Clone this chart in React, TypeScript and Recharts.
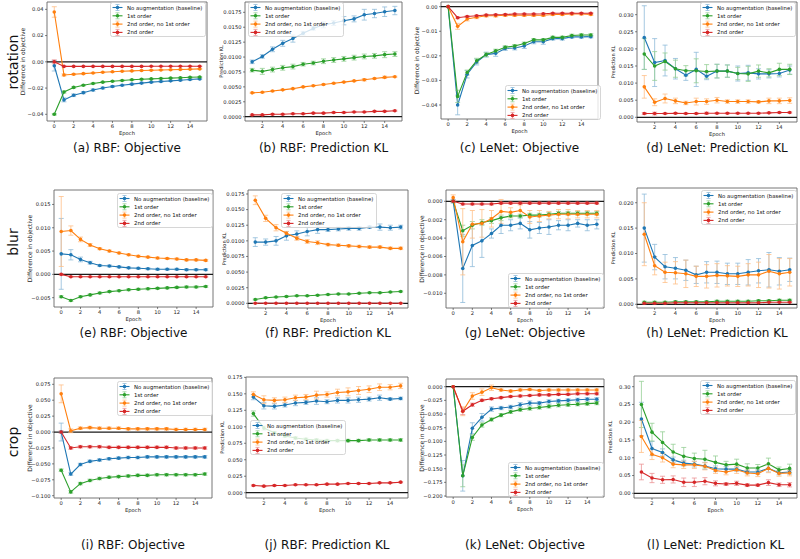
import React from 'react';
import { LineChart, Line, XAxis, YAxis, ErrorBar, ReferenceLine, ReferenceArea, Label } from 'recharts';

const COLORS = ['#1f77b4', '#2ca02c', '#ff7f0e', '#d62728'];
const ERR_COLORS = ['#8fbbd9', '#95cf95', '#ffbf86', '#eb9394'];
const SERIES_NAMES = ['No augmentation (baseline)', '1st order', '2nd order, no 1st order', '2nd order'];
const OBJ_LABEL = 'Difference in objective';
const KL_LABEL = 'Prediction KL';

const EPOCHS_FROM_0 = [0, 1, 2, 3, 4, 5, 6, 7, 8, 9, 10, 11, 12, 13, 14, 15];
const EPOCHS_FROM_1 = [1, 2, 3, 4, 5, 6, 7, 8, 9, 10, 11, 12, 13, 14, 15];
const TICKS_FROM_0 = [0, 2, 4, 6, 8, 10, 12, 14];
const TICKS_FROM_1 = [2, 4, 6, 8, 10, 12, 14];

// (a) rotation, RBF, objective
const aNoAug = [-0.003, -0.029, -0.0255, -0.0235, -0.0215, -0.02, -0.0188, -0.0178, -0.017, -0.0162, -0.0155, -0.015, -0.0145, -0.014, -0.0135, -0.013];
const aNoAugErr = [0.004, 0.0015, 0.001, 0.0008, 0.0008, 0.0007, 0.0007, 0.0006, 0.0006, 0.0006, 0.0005, 0.0005, 0.0005, 0.0005, 0.0005, 0.0005];
const aFirst = [-0.04, -0.023, -0.0195, -0.0178, -0.0165, -0.0155, -0.0148, -0.0142, -0.0137, -0.0133, -0.013, -0.0127, -0.0124, -0.0121, -0.0118, -0.0116];
const aFirstErr = [0.0006, 0.0008, 0.0006, 0.0005, 0.0005, 0.0004, 0.0004, 0.0004, 0.0004, 0.0004, 0.0004, 0.0004, 0.0004, 0.0004, 0.0004, 0.0004];
const aSecondNoFirst = [0.038, -0.01, -0.0095, -0.009, -0.0085, -0.008, -0.0076, -0.0072, -0.0069, -0.0066, -0.0064, -0.0062, -0.006, -0.0058, -0.0056, -0.0054];
const aSecondNoFirstErr = [0.004, 0.0008, 0.0005, 0.0004, 0.0004, 0.0003, 0.0003, 0.0003, 0.0003, 0.0003, 0.0003, 0.0003, 0.0003, 0.0003, 0.0003, 0.0003];
const aSecond = [0, -0.0035, -0.0035, -0.0035, -0.0035, -0.0035, -0.0035, -0.0035, -0.0035, -0.0035, -0.0034, -0.0034, -0.0034, -0.0034, -0.0034, -0.0034];
const aSecondErr = [0.0015, 0.0003, 0.0002, 0.0002, 0.0002, 0.0002, 0.0002, 0.0002, 0.0002, 0.0002, 0.0002, 0.0002, 0.0002, 0.0002, 0.0002, 0.0002];

// (b) rotation, RBF, prediction KL
const bNoAug = [0.0092, 0.0101, 0.0113, 0.0123, 0.0131, 0.014, 0.0148, 0.0154, 0.0157, 0.0161, 0.0164, 0.0171, 0.0173, 0.0176, 0.0178];
const bNoAugErr = [0.0003, 0.0003, 0.0004, 0.0005, 0.0006, 0.0003, 0.0003, 0.0005, 0.0004, 0.0007, 0.0005, 0.0009, 0.0007, 0.0008, 0.0007];
const bFirst = [0.0078, 0.0076, 0.0079, 0.0082, 0.0084, 0.0088, 0.009, 0.0093, 0.0095, 0.0097, 0.0099, 0.0101, 0.0102, 0.0104, 0.0105];
const bFirstErr = [0.0003, 0.0005, 0.0004, 0.0004, 0.0004, 0.0003, 0.0003, 0.0004, 0.0004, 0.0004, 0.0004, 0.0004, 0.0004, 0.0005, 0.0004];
const bSecondNoFirst = [0.004, 0.0041, 0.0043, 0.0045, 0.0047, 0.005, 0.0052, 0.0054, 0.0056, 0.0058, 0.006, 0.0062, 0.0064, 0.0066, 0.0067];
const bSecondNoFirstErr = [0.0001, 0.0001, 0.0001, 0.0001, 0.0001, 0.0001, 0.0001, 0.0001, 0.0001, 0.0001, 0.0001, 0.0002, 0.0001, 0.0002, 0.0001];
const bSecond = [0.0003, 0.0003, 0.0004, 0.0004, 0.0005, 0.0005, 0.0006, 0.0006, 0.0007, 0.0007, 0.0008, 0.0008, 0.0009, 0.0009, 0.001];
const bSecondErr = [0.0001, 0.0001, 0.0001, 0.0001, 0.0001, 0.0001, 0.0001, 0.0001, 0.0001, 0.0001, 0.0001, 0.0001, 0.0001, 0.0001, 0.0001];

// (c) rotation, LeNet, objective
const cNoAug = [0, -0.04, -0.0275, -0.0225, -0.0195, -0.019, -0.017, -0.0168, -0.016, -0.0143, -0.0143, -0.013, -0.013, -0.0123, -0.0123, -0.0122];
const cNoAugErr = [0, 0.004, 0.0015, 0.0012, 0.001, 0.0012, 0.0008, 0.0008, 0.001, 0.0008, 0.001, 0.0006, 0.0006, 0.0005, 0.0005, 0.0005];
const cFirst = [0, -0.0365, -0.0268, -0.022, -0.0195, -0.018, -0.0165, -0.016, -0.015, -0.0135, -0.0135, -0.0125, -0.0125, -0.0117, -0.0115, -0.0115];
const cFirstErr = [0, 0.0025, 0.001, 0.001, 0.0008, 0.0007, 0.0006, 0.0006, 0.0006, 0.0005, 0.0005, 0.0005, 0.0005, 0.0005, 0.0005, 0.0005];
const cSecondNoFirst = [0, -0.008, -0.005, -0.0043, -0.0037, -0.0037, -0.0035, -0.0035, -0.0035, -0.0035, -0.0035, -0.0032, -0.0032, -0.003, -0.003, -0.0032];
const cSecondNoFirstErr = [0, 0.0012, 0.0008, 0.0006, 0.0005, 0.0005, 0.0005, 0.0005, 0.0005, 0.0005, 0.0005, 0.0004, 0.0004, 0.0004, 0.0004, 0.0004];
const cSecond = [0, -0.0045, -0.004, -0.0037, -0.0034, -0.0033, -0.0032, -0.003, -0.003, -0.003, -0.0029, -0.0027, -0.0027, -0.0027, -0.0027, -0.0027];
const cSecondErr = [0, 0.0004, 0.0003, 0.0003, 0.0003, 0.0003, 0.0003, 0.0003, 0.0003, 0.0003, 0.0003, 0.0003, 0.0003, 0.0003, 0.0003, 0.0003];

// (d) rotation, LeNet, prediction KL
const dNoAug = [0.0233, 0.016, 0.0166, 0.0142, 0.0123, 0.014, 0.012, 0.0135, 0.0135, 0.0128, 0.013, 0.0127, 0.0127, 0.0128, 0.0138];
const dNoAugErr = [0.0093, 0.007, 0.0045, 0.003, 0.0015, 0.005, 0.001, 0.002, 0.0018, 0.0022, 0.0022, 0.0015, 0.0012, 0.001, 0.0012];
const dFirst = [0.0185, 0.015, 0.0163, 0.0142, 0.0136, 0.0136, 0.0134, 0.0135, 0.0135, 0.0128, 0.0127, 0.0135, 0.013, 0.014, 0.014];
const dFirstErr = [0.0045, 0.0042, 0.0025, 0.0025, 0.0015, 0.0035, 0.002, 0.002, 0.0018, 0.0018, 0.0022, 0.0018, 0.0012, 0.0018, 0.0015];
const dSecondNoFirst = [0.0089, 0.0044, 0.0055, 0.0048, 0.0042, 0.0046, 0.0046, 0.005, 0.0046, 0.0046, 0.0046, 0.0045, 0.0048, 0.0048, 0.0049];
const dSecondNoFirstErr = [0.0033, 0.001, 0.0013, 0.0008, 0.0005, 0.001, 0.0008, 0.0008, 0.0005, 0.0005, 0.0005, 0.0003, 0.0008, 0.0008, 0.0008];
const dSecond = [0.0011, 0.0011, 0.0011, 0.0012, 0.0011, 0.0011, 0.0012, 0.0012, 0.0012, 0.0012, 0.0012, 0.0012, 0.0013, 0.0014, 0.0014];
const dSecondErr = [0.0003, 0.0004, 0.0002, 0.0002, 0.0002, 0.0002, 0.0003, 0.0002, 0.0002, 0.0002, 0.0002, 0.0002, 0.0002, 0.0002, 0.0002];

// (e) blur, RBF, objective
const eNoAug = [0.0044, 0.0042, 0.0032, 0.0025, 0.0019, 0.0018, 0.0016, 0.0014, 0.0013, 0.0012, 0.0011, 0.0011, 0.0011, 0.001, 0.001, 0.001];
const eNoAugErr = [0.0076, 0.0011, 0.0005, 0.0003, 0.0002, 0.0002, 0.0002, 0.0002, 0.0002, 0.0002, 0.0002, 0.0002, 0.0002, 0.0002, 0.0002, 0.0002];
const eFirst = [-0.0048, -0.0056, -0.0048, -0.0044, -0.004, -0.0037, -0.0035, -0.0033, -0.0032, -0.0031, -0.003, -0.0029, -0.0028, -0.0027, -0.0027, -0.0026];
const eFirstErr = [0.0002, 0.0002, 0.0002, 0.0002, 0.0002, 0.0002, 0.0002, 0.0002, 0.0002, 0.0002, 0.0002, 0.0002, 0.0002, 0.0002, 0.0002, 0.0002];
const eSecondNoFirst = [0.0092, 0.0094, 0.0075, 0.0063, 0.0055, 0.005, 0.0046, 0.0042, 0.0039, 0.0037, 0.0035, 0.0034, 0.0033, 0.0031, 0.0031, 0.003];
const eSecondNoFirstErr = [0.0075, 0.001, 0.0005, 0.0003, 0.0002, 0.0002, 0.0002, 0.0002, 0.0002, 0.0002, 0.0002, 0.0002, 0.0002, 0.0002, 0.0002, 0.0002];
const eSecond = [0, -0.0005, -0.0005, -0.0005, -0.0005, -0.0005, -0.0005, -0.0005, -0.0005, -0.0005, -0.0005, -0.0005, -0.0005, -0.0005, -0.0005, -0.0005];
const eSecondErr = [0.0002, 0.0001, 0.0001, 0.0001, 0.0001, 0.0001, 0.0001, 0.0001, 0.0001, 0.0001, 0.0001, 0.0001, 0.0001, 0.0001, 0.0001, 0.0001];

// (f) blur, RBF, prediction KL
const fNoAug = [0.0098, 0.0098, 0.01, 0.0108, 0.0111, 0.0115, 0.0118, 0.0118, 0.0119, 0.012, 0.012, 0.0122, 0.0122, 0.0121, 0.0122];
const fNoAugErr = [0.0007, 0.0005, 0.0007, 0.0007, 0.0005, 0.0007, 0.0006, 0.0003, 0.0003, 0.0003, 0.0003, 0.0002, 0.0005, 0.0004, 0.0003];
const fFirst = [0.0006, 0.0009, 0.001, 0.0011, 0.0012, 0.0012, 0.0013, 0.0014, 0.0015, 0.0015, 0.0016, 0.0017, 0.0017, 0.0018, 0.0019];
const fFirstErr = [0.0001, 0.0001, 0.0001, 0.0001, 0.0001, 0.0001, 0.0001, 0.0001, 0.0001, 0.0001, 0.0001, 0.0001, 0.0001, 0.0001, 0.0001];
const fSecondNoFirst = [0.0165, 0.0136, 0.0121, 0.0112, 0.0104, 0.0099, 0.0097, 0.0094, 0.0093, 0.0092, 0.0091, 0.009, 0.009, 0.0088, 0.0088];
const fSecondNoFirstErr = [0.0007, 0.0005, 0.0005, 0.0003, 0.0003, 0.0003, 0.0003, 0.0002, 0.0002, 0.0002, 0.0002, 0.0002, 0.0002, 0.0002, 0.0002];
const fSecond = [0, 0, 0, 0, 0, 0, 0, 0, 0, 0, 0, 0, 0, 0, 0];
const fSecondErr = [0.00005, 0.00005, 0.00005, 0.00005, 0.00005, 0.00005, 0.00005, 0.00005, 0.00005, 0.00005, 0.00005, 0.00005, 0.00005, 0.00005, 0.00005];

// (g) blur, LeNet, objective
const gNoAug = [0, -0.0073, -0.0048, -0.0043, -0.0035, -0.0026, -0.0026, -0.0024, -0.0031, -0.0029, -0.0028, -0.0026, -0.0026, -0.0024, -0.0026, -0.0025];
const gNoAugErr = [0.0002, 0.0037, 0.0023, 0.0018, 0.0005, 0.0009, 0.0006, 0.0006, 0.0009, 0.0006, 0.0008, 0.0005, 0.0006, 0.0004, 0.0006, 0.0005];
const gFirst = [0, -0.0032, -0.0026, -0.0023, -0.0021, -0.0018, -0.0016, -0.0016, -0.0015, -0.0015, -0.0014, -0.0013, -0.0013, -0.0013, -0.0013, -0.0013];
const gFirstErr = [0.0001, 0.0006, 0.0004, 0.0003, 0.0003, 0.0003, 0.0002, 0.0002, 0.0002, 0.0002, 0.0002, 0.0002, 0.0002, 0.0002, 0.0002, 0.0002];
const gSecondNoFirst = [0.0004, -0.0044, -0.0025, -0.0024, -0.0019, -0.0011, -0.0012, -0.001, -0.0017, -0.0016, -0.0015, -0.0014, -0.0014, -0.0014, -0.0014, -0.0014];
const gSecondNoFirstErr = [0.0003, 0.0036, 0.0015, 0.0015, 0.0009, 0.0013, 0.0005, 0.0006, 0.0007, 0.0006, 0.0004, 0.0005, 0.0005, 0.0004, 0.0004, 0.0004];
const gSecond = [0, -0.0003, -0.0003, -0.0003, -0.0003, -0.0002, -0.0002, -0.0002, -0.0002, -0.0002, -0.0002, -0.0002, -0.0002, -0.0002, -0.0002, -0.0002];
const gSecondErr = [0.0001, 0.0001, 0.0001, 0.0001, 0.0001, 0.0001, 0.0001, 0.0001, 0.0001, 0.0001, 0.0001, 0.0001, 0.0001, 0.0001, 0.0001, 0.0001];

// (h) blur, LeNet, prediction KL
const hNoAug = [0.015, 0.0093, 0.0074, 0.0071, 0.0067, 0.0058, 0.0063, 0.0063, 0.006, 0.006, 0.0063, 0.0066, 0.0068, 0.0065, 0.0068];
const hNoAugErr = [0.0067, 0.0025, 0.0024, 0.0021, 0.002, 0.0017, 0.0021, 0.0022, 0.0021, 0.0021, 0.0025, 0.0024, 0.0034, 0.0027, 0.0023];
const hFirst = [0.0004, 0.0004, 0.0004, 0.0005, 0.0005, 0.0005, 0.0005, 0.0006, 0.0006, 0.0006, 0.0006, 0.0007, 0.0007, 0.0008, 0.0008];
const hFirstErr = [0.0002, 0.0002, 0.0002, 0.0002, 0.0002, 0.0002, 0.0002, 0.0002, 0.0002, 0.0002, 0.0002, 0.0002, 0.0002, 0.0002, 0.0002];
const hSecondNoFirst = [0.0138, 0.0076, 0.0063, 0.0062, 0.006, 0.0055, 0.0055, 0.0057, 0.0056, 0.0055, 0.0058, 0.0058, 0.0065, 0.006, 0.0063];
const hSecondNoFirstErr = [0.0062, 0.0018, 0.002, 0.0022, 0.0027, 0.002, 0.0023, 0.0023, 0.002, 0.002, 0.0022, 0.0025, 0.0033, 0.003, 0.0027];
const hSecond = [0.0002, 0.0002, 0.0002, 0.0003, 0.0003, 0.0003, 0.0003, 0.0003, 0.0003, 0.0003, 0.0003, 0.0003, 0.0004, 0.0004, 0.0004];
const hSecondErr = [0.0001, 0.0001, 0.0001, 0.0001, 0.0001, 0.0001, 0.0001, 0.0001, 0.0001, 0.0001, 0.0001, 0.0001, 0.0001, 0.0001, 0.0001];

// (i) crop, RBF, objective
const iNoAug = [0, -0.066, -0.051, -0.046, -0.044, -0.042, -0.041, -0.04, -0.04, -0.039, -0.039, -0.039, -0.039, -0.039, -0.039, -0.039];
const iNoAugErr = [0.014, 0.002, 0.002, 0.002, 0.002, 0.002, 0.002, 0.002, 0.002, 0.002, 0.002, 0.002, 0.002, 0.002, 0.002, 0.002];
const iFirst = [-0.06, -0.094, -0.081, -0.076, -0.073, -0.071, -0.07, -0.069, -0.068, -0.068, -0.067, -0.067, -0.067, -0.067, -0.067, -0.066];
const iFirstErr = [0.002, 0.002, 0.002, 0.002, 0.002, 0.002, 0.002, 0.002, 0.002, 0.002, 0.002, 0.002, 0.002, 0.002, 0.002, 0.002];
const iSecondNoFirst = [0.06, 0.002, 0.006, 0.007, 0.006, 0.006, 0.006, 0.005, 0.005, 0.005, 0.005, 0.005, 0.004, 0.004, 0.004, 0.004];
const iSecondNoFirstErr = [0.014, 0.003, 0.002, 0.002, 0.002, 0.002, 0.002, 0.002, 0.002, 0.002, 0.002, 0.002, 0.002, 0.002, 0.002, 0.002];
const iSecond = [0, -0.025, -0.023, -0.023, -0.023, -0.024, -0.024, -0.024, -0.024, -0.024, -0.024, -0.024, -0.025, -0.025, -0.025, -0.025];
const iSecondErr = [0.002, 0.002, 0.002, 0.002, 0.002, 0.002, 0.002, 0.002, 0.002, 0.002, 0.002, 0.002, 0.002, 0.002, 0.002, 0.002];

// (j) crop, RBF, prediction KL
const jNoAug = [0.145, 0.132, 0.131, 0.133, 0.136, 0.137, 0.139, 0.138, 0.14, 0.14, 0.141, 0.142, 0.144, 0.142, 0.143];
const jNoAugErr = [0.004, 0.005, 0.004, 0.003, 0.004, 0.003, 0.005, 0.003, 0.004, 0.004, 0.004, 0.003, 0.004, 0.002, 0.002];
const jFirst = [0.12, 0.098, 0.091, 0.086, 0.083, 0.081, 0.08, 0.079, 0.079, 0.079, 0.079, 0.08, 0.08, 0.08, 0.08];
const jFirstErr = [0.004, 0.003, 0.002, 0.002, 0.002, 0.002, 0.002, 0.002, 0.002, 0.002, 0.002, 0.002, 0.002, 0.002, 0.002];
const jSecondNoFirst = [0.149, 0.141, 0.14, 0.141, 0.144, 0.145, 0.148, 0.149, 0.152, 0.153, 0.155, 0.157, 0.16, 0.16, 0.162];
const jSecondNoFirstErr = [0.004, 0.006, 0.004, 0.004, 0.004, 0.004, 0.006, 0.004, 0.005, 0.006, 0.006, 0.005, 0.005, 0.004, 0.004];
const jSecond = [0.011, 0.01, 0.011, 0.011, 0.012, 0.012, 0.012, 0.013, 0.013, 0.014, 0.014, 0.014, 0.015, 0.015, 0.016];
const jSecondErr = [0.001, 0.001, 0.001, 0.001, 0.001, 0.001, 0.001, 0.001, 0.001, 0.001, 0.001, 0.001, 0.001, 0.001, 0.001];

// (k) crop, LeNet, objective
const kNoAug = [0, -0.163, -0.076, -0.056, -0.041, -0.039, -0.037, -0.033, -0.03, -0.03, -0.027, -0.026, -0.025, -0.024, -0.023, -0.023];
const kNoAugErr = [0, 0.028, 0.01, 0.007, 0.004, 0.003, 0.003, 0.004, 0.004, 0.003, 0.003, 0.003, 0.003, 0.003, 0.003, 0.003];
const kFirst = [0, -0.163, -0.093, -0.07, -0.06, -0.052, -0.046, -0.042, -0.04, -0.038, -0.036, -0.034, -0.033, -0.032, -0.031, -0.03];
const kFirstErr = [0, 0.02, 0.005, 0.004, 0.003, 0.003, 0.003, 0.003, 0.003, 0.003, 0.003, 0.003, 0.003, 0.003, 0.003, 0.003];
const kSecondNoFirst = [0, -0.045, -0.017, -0.01, -0.002, -0.006, -0.008, -0.006, -0.005, -0.007, -0.006, -0.006, -0.006, -0.006, -0.006, -0.006];
const kSecondNoFirstErr = [0, 0.008, 0.006, 0.006, 0.005, 0.002, 0.002, 0.002, 0.002, 0.002, 0.002, 0.002, 0.002, 0.002, 0.002, 0.002];
const kSecond = [0, -0.045, -0.033, -0.025, -0.022, -0.02, -0.018, -0.017, -0.016, -0.015, -0.015, -0.014, -0.014, -0.013, -0.013, -0.013];
const kSecondErr = [0, 0.006, 0.003, 0.002, 0.002, 0.002, 0.002, 0.002, 0.002, 0.002, 0.002, 0.002, 0.002, 0.002, 0.002, 0.002];

// (l) crop, LeNet, prediction KL
const lNoAug = [0.209, 0.126, 0.115, 0.094, 0.085, 0.082, 0.077, 0.069, 0.068, 0.068, 0.06, 0.06, 0.07, 0.058, 0.06];
const lNoAugErr = [0.047, 0.02, 0.01, 0.008, 0.008, 0.008, 0.01, 0.008, 0.007, 0.006, 0.005, 0.006, 0.01, 0.006, 0.006];
const lFirst = [0.25, 0.172, 0.143, 0.116, 0.104, 0.098, 0.096, 0.087, 0.08, 0.082, 0.071, 0.071, 0.083, 0.066, 0.07];
const lFirstErr = [0.065, 0.025, 0.03, 0.022, 0.025, 0.015, 0.025, 0.018, 0.01, 0.014, 0.012, 0.01, 0.016, 0.008, 0.012];
const lSecondNoFirst = [0.16, 0.11, 0.1, 0.082, 0.08, 0.08, 0.076, 0.064, 0.06, 0.066, 0.057, 0.055, 0.07, 0.056, 0.057];
const lSecondNoFirstErr = [0.045, 0.015, 0.012, 0.01, 0.01, 0.01, 0.01, 0.008, 0.008, 0.01, 0.008, 0.008, 0.012, 0.008, 0.008];
const lSecond = [0.06, 0.043, 0.038, 0.039, 0.031, 0.031, 0.034, 0.028, 0.026, 0.028, 0.023, 0.023, 0.03, 0.024, 0.024];
const lSecondErr = [0.022, 0.013, 0.01, 0.01, 0.012, 0.012, 0.01, 0.007, 0.004, 0.006, 0.004, 0.003, 0.008, 0.005, 0.006];

type PanelSpec = {
  caption: string;
  left: number;
  top: number;
  width: number;
  height: number;
  epochs: number[];
  values: number[][];
  errors: number[][];
  yDomain: [number, number];
  yTicks: number[];
  digits: number;
  yLabel: string;
  legendLeft: number;
  legendTop: number;
  captionY: number;
};

const panels: PanelSpec[] = [
  { caption: '(a) RBF: Objective', left: 47, top: 2, width: 160, height: 119, epochs: EPOCHS_FROM_0,
    values: [aNoAug, aFirst, aSecondNoFirst, aSecond], errors: [aNoAugErr, aFirstErr, aSecondNoFirstErr, aSecondErr],
    yDomain: [-0.0451, 0.0456], yTicks: [-0.04, -0.02, 0, 0.02, 0.04], digits: 2, yLabel: OBJ_LABEL, legendLeft: 110, legendTop: 2, captionY: 148 },
  { caption: '(b) RBF: Prediction KL', left: 245, top: 2, width: 157, height: 119, epochs: EPOCHS_FROM_1,
    values: [bNoAug, bFirst, bSecondNoFirst, bSecond], errors: [bNoAugErr, bFirstErr, bSecondNoFirstErr, bSecondErr],
    yDomain: [-0.00072, 0.01923], yTicks: [0, 0.0025, 0.005, 0.0075, 0.01, 0.0125, 0.015, 0.0175], digits: 4, yLabel: KL_LABEL, legendLeft: 248, legendTop: 2, captionY: 148 },
  { caption: '(c) LeNet: Objective', left: 441, top: 2, width: 157, height: 117, epochs: EPOCHS_FROM_0,
    values: [cNoAug, cFirst, cSecondNoFirst, cSecond], errors: [cNoAugErr, cFirstErr, cSecondNoFirstErr, cSecondErr],
    yDomain: [-0.0457, 0.0019], yTicks: [-0.04, -0.03, -0.02, -0.01, 0], digits: 2, yLabel: OBJ_LABEL, legendLeft: 505, legendTop: 85, captionY: 148 },
  { caption: '(d) LeNet: Prediction KL', left: 637, top: 2, width: 160, height: 120, epochs: EPOCHS_FROM_1,
    values: [dNoAug, dFirst, dSecondNoFirst, dSecond], errors: [dNoAugErr, dFirstErr, dSecondNoFirstErr, dSecondErr],
    yDomain: [-0.00137, 0.0337], yTicks: [0, 0.005, 0.01, 0.015, 0.02, 0.025, 0.03], digits: 3, yLabel: KL_LABEL, legendLeft: 700, legendTop: 2, captionY: 148 },
  { caption: '(e) RBF: Objective', left: 54, top: 190, width: 159, height: 117, epochs: EPOCHS_FROM_0,
    values: [eNoAug, eFirst, eSecondNoFirst, eSecond], errors: [eNoAugErr, eFirstErr, eSecondNoFirstErr, eSecondErr],
    yDomain: [-0.007, 0.0181], yTicks: [-0.005, 0, 0.005, 0.01, 0.015], digits: 3, yLabel: OBJ_LABEL, legendLeft: 117, legendTop: 193, captionY: 333 },
  { caption: '(f) RBF: Prediction KL', left: 248, top: 190, width: 160, height: 118, epochs: EPOCHS_FROM_1,
    values: [fNoAug, fFirst, fSecondNoFirst, fSecond], errors: [fNoAugErr, fFirstErr, fSecondNoFirstErr, fSecondErr],
    yDomain: [-0.00075, 0.01814], yTicks: [0, 0.0025, 0.005, 0.0075, 0.01, 0.0125, 0.015, 0.0175], digits: 4, yLabel: KL_LABEL, legendLeft: 281, legendTop: 193, captionY: 333 },
  { caption: '(g) LeNet: Objective', left: 446, top: 190, width: 158, height: 118, epochs: EPOCHS_FROM_0,
    values: [gNoAug, gFirst, gSecondNoFirst, gSecond], errors: [gNoAugErr, gFirstErr, gSecondNoFirstErr, gSecondErr],
    yDomain: [-0.0116, 0.00123], yTicks: [-0.01, -0.008, -0.006, -0.004, -0.002, 0], digits: 3, yLabel: OBJ_LABEL, legendLeft: 508, legendTop: 273, captionY: 333 },
  { caption: '(h) LeNet: Prediction KL', left: 637, top: 188, width: 160, height: 120, epochs: EPOCHS_FROM_1,
    values: [hNoAug, hFirst, hSecondNoFirst, hSecond], errors: [hNoAugErr, hFirstErr, hSecondNoFirstErr, hSecondErr],
    yDomain: [-0.00073, 0.0229], yTicks: [0, 0.005, 0.01, 0.015, 0.02], digits: 3, yLabel: KL_LABEL, legendLeft: 701, legendTop: 190, captionY: 333 },
  { caption: '(i) RBF: Objective', left: 54, top: 378, width: 158, height: 120, epochs: EPOCHS_FROM_0,
    values: [iNoAug, iFirst, iSecondNoFirst, iSecond], errors: [iNoAugErr, iFirstErr, iSecondNoFirstErr, iSecondErr],
    yDomain: [-0.1036, 0.0849], yTicks: [-0.1, -0.075, -0.05, -0.025, 0, 0.025, 0.05, 0.075], digits: 3, yLabel: OBJ_LABEL, legendLeft: 117, legendTop: 381, captionY: 545 },
  { caption: '(j) RBF: Prediction KL', left: 246, top: 377, width: 162, height: 121, epochs: EPOCHS_FROM_1,
    values: [jNoAug, jFirst, jSecondNoFirst, jSecond], errors: [jNoAugErr, jFirstErr, jSecondNoFirstErr, jSecondErr],
    yDomain: [-0.008, 0.1755], yTicks: [0, 0.025, 0.05, 0.075, 0.1, 0.125, 0.15, 0.175], digits: 3, yLabel: KL_LABEL, legendLeft: 250, legendTop: 420, captionY: 545 },
  { caption: '(k) LeNet: Objective', left: 446, top: 379, width: 158, height: 118, epochs: EPOCHS_FROM_0,
    values: [kNoAug, kFirst, kSecondNoFirst, kSecond], errors: [kNoAugErr, kFirstErr, kSecondNoFirstErr, kSecondErr],
    yDomain: [-0.2018, 0.0141], yTicks: [-0.2, -0.175, -0.15, -0.125, -0.1, -0.075, -0.05, -0.025, 0], digits: 3, yLabel: OBJ_LABEL, legendLeft: 508, legendTop: 462, captionY: 545 },
  { caption: '(l) LeNet: Prediction KL', left: 634, top: 376, width: 163, height: 122, epochs: EPOCHS_FROM_1,
    values: [lNoAug, lFirst, lSecondNoFirst, lSecond], errors: [lNoAugErr, lFirstErr, lSecondNoFirstErr, lSecondErr],
    yDomain: [-0.0132, 0.33], yTicks: [0, 0.05, 0.1, 0.15, 0.2, 0.25, 0.3], digits: 2, yLabel: KL_LABEL, legendLeft: 700, legendTop: 380, captionY: 545 },
];

const ROW_LABELS = ['rotation', 'blur', 'crop'];
const ROW_LABEL_Y = [62, 242, 442];

const FONT = '"DejaVu Sans", sans-serif';
const YW = 30; // room for y ticks and label
const XH = 14; // room for x ticks and "Epoch"
const PAD = 4;

// matplotlib style tick text, with a real minus sign
const tickFormat = (digits: number) => (v: number) => {
  const s = Math.abs(v).toFixed(digits);
  return v < -1e-9 ? '\u2212' + s : s;
};

function LegendBox({ left, top }: { left: number; top: number }) {
  const w = 95;
  const h = 34;
  return (
    <svg width={w + 2} height={h + 2} style={{ position: 'absolute', left, top }}>
      <rect x={0.5} y={0.5} width={w} height={h} rx={2} fill="#fff" fillOpacity={0.8} stroke="#ccc" strokeWidth={0.8} />
      {SERIES_NAMES.map((name, i) => {
        const cy = 5.5 + i * 8.3;
        return (
          <g key={name}>
            <line x1={2.5} x2={12.5} y1={cy} y2={cy} stroke={COLORS[i]} strokeWidth={1.1} />
            <line x1={7.5} x2={7.5} y1={cy - 3} y2={cy + 3} stroke={ERR_COLORS[i]} strokeWidth={0.8} />
            <line x1={5.5} x2={9.5} y1={cy - 3} y2={cy - 3} stroke={ERR_COLORS[i]} strokeWidth={0.8} />
            <line x1={5.5} x2={9.5} y1={cy + 3} y2={cy + 3} stroke={ERR_COLORS[i]} strokeWidth={0.8} />
            <circle cx={7.5} cy={cy} r={1.8} fill={COLORS[i]} />
            <text x={17} y={cy} dominantBaseline="central" fontSize={5.4} fontFamily={FONT} fill="#111">
              {name}
            </text>
          </g>
        );
      })}
    </svg>
  );
}

function Panel({ p }: { p: PanelSpec }) {
  const fromZero = p.epochs[0] === 0;
  const xDomain: [number, number] = fromZero ? [-0.75, 15.75] : [0.3, 15.7];
  const xTicks = fromZero ? TICKS_FROM_0 : TICKS_FROM_1;
  const rows = p.epochs.map((epoch, i) => {
    const row: Record<string, number> = { epoch };
    p.values.forEach((vals, k) => {
      row['s' + k] = vals[i];
      row['e' + k] = p.errors[k][i];
    });
    return row;
  });

  return (
    <>
      <div style={{ position: 'absolute', left: p.left - YW - PAD, top: p.top - PAD }}>
        <LineChart
          width={p.width + YW + 2 * PAD}
          height={p.height + XH + 2 * PAD}
          data={rows}
          margin={{ top: PAD, right: PAD, bottom: PAD, left: PAD }}
        >
          <XAxis
            dataKey="epoch"
            type="number"
            domain={xDomain}
            ticks={xTicks}
            allowDataOverflow
            height={XH}
            axisLine={false}
            tickSize={2}
            tickMargin={1}
            tickLine={{ stroke: '#333', strokeWidth: 0.6 }}
            tick={{ fontSize: 5.2, fill: '#222', fontFamily: FONT }}
          >
            <Label value="Epoch" position="insideBottom" offset={0} fontSize={5.2} fill="#222" fontFamily={FONT} />
          </XAxis>
          <YAxis
            type="number"
            domain={p.yDomain}
            ticks={p.yTicks}
            allowDataOverflow
            width={YW}
            axisLine={false}
            tickSize={2}
            tickMargin={1.5}
            tickLine={{ stroke: '#333', strokeWidth: 0.6 }}
            tick={{ fontSize: 5.2, fill: '#222', fontFamily: FONT }}
            tickFormatter={tickFormat(p.digits)}
          >
            <Label
              value={p.yLabel}
              angle={-90}
              position="insideLeft"
              offset={6}
              style={{ textAnchor: 'middle' }}
              fontSize={p.yLabel === OBJ_LABEL ? 6 : 5}
              fill="#222"
              fontFamily={FONT}
            />
          </YAxis>
          <ReferenceLine y={0} stroke="#1a1a1a" strokeWidth={1.3} />
          {p.values.map((_, k) => (
            <Line
              key={k}
              type="linear"
              dataKey={'s' + k}
              stroke={COLORS[k]}
              strokeWidth={1.1}
              dot={{ r: 1.8, fill: COLORS[k], stroke: COLORS[k], strokeWidth: 0 }}
              isAnimationActive={false}
            >
              <ErrorBar dataKey={'e' + k} width={2.5} strokeWidth={0.8} stroke={ERR_COLORS[k]} direction="y" />
            </Line>
          ))}
          <ReferenceArea
            x1={xDomain[0]}
            x2={xDomain[1]}
            y1={p.yDomain[0]}
            y2={p.yDomain[1]}
            fill="none"
            fillOpacity={0}
            stroke="#666"
            strokeWidth={0.9}
          />
        </LineChart>
      </div>
      <LegendBox left={p.legendLeft} top={p.legendTop} />
      <div
        style={{
          position: 'absolute',
          left: p.left + p.width / 2 - 100,
          width: 200,
          top: p.captionY - 8,
          textAlign: 'center',
          fontFamily: FONT,
          fontSize: 12,
          lineHeight: '16px',
          color: '#111',
        }}
      >
        {p.caption}
      </div>
    </>
  );
}

export default function App() {
  return (
    <div style={{ position: 'absolute', left: 0, top: 0, width: 800, height: 559, background: '#fff', overflow: 'hidden' }}>
      {panels.map((p) => (
        <Panel key={p.caption} p={p} />
      ))}
      <svg width={30} height={559} style={{ position: 'absolute', left: 0, top: 0 }}>
        {ROW_LABELS.map((name, i) => (
          <text
            key={name}
            x={13}
            y={ROW_LABEL_Y[i]}
            transform={`rotate(-90 13 ${ROW_LABEL_Y[i]})`}
            textAnchor="middle"
            dominantBaseline="central"
            fontSize={14}
            fontFamily={FONT}
            fill="#111"
          >
            {name}
          </text>
        ))}
      </svg>
    </div>
  );
}
